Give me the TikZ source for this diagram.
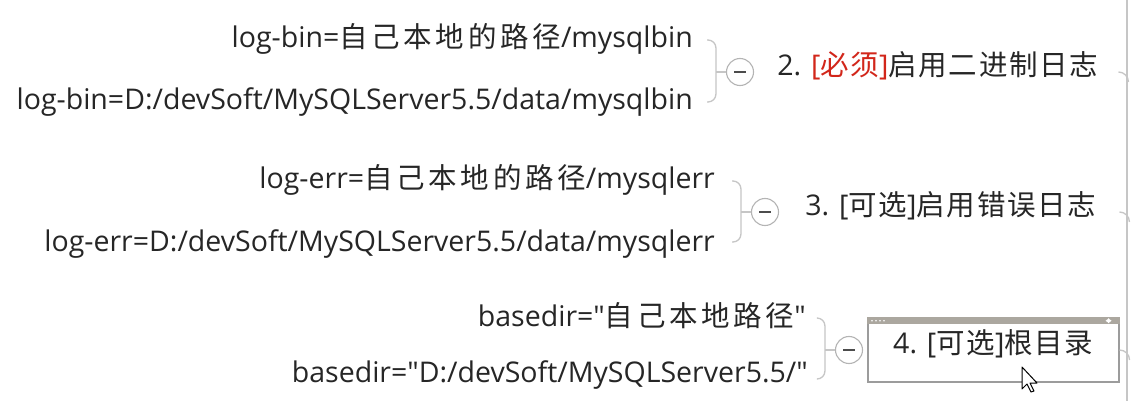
\documentclass[tikz,border=0pt]{standalone}
\usepackage{fontspec}
\setmainfont{Open Sans}[Ligatures=TeXOff]
\newfontfamily\cjk{Noto Sans CJK SC}[LetterSpace=6]
\newfontfamily\cjkwide{Noto Sans CJK SC}[LetterSpace=13]
\usetikzlibrary{positioning}
\definecolor{branchgray}{HTML}{C6C6C6}
\definecolor{foldgray}{HTML}{B4B4B4}
\definecolor{boxgray}{HTML}{9C9C9C}
\definecolor{bargray}{HTML}{ABA79F}
\definecolor{mustred}{HTML}{D2261A}

\begin{document}
\begin{tikzpicture}[x=1pt, y=1pt,
    every node/.style={font=\fontsize{28.5}{34}\selectfont, text=black!85, inner sep=0pt},
    leaf/.style={anchor=base east},
    branch/.style={draw=branchgray, line width=1.3pt, rounded corners=8pt},
    fold/.style={circle, draw=foldgray, fill=white, line width=1.1pt, minimum size=27pt},
    topic/.style={text height=0.85em, text depth=0.2em, align=center},
    minus/.style={draw=black!70, line width=1.7pt}]
    \useasboundingbox[fill=white] (0,0) rectangle (1133,-401);

    % fold buttons
    \node[fold] (c1) at (740,-72) {};
    \node[fold] (c2) at (765,-212) {};
    \node[fold] (c3) at (849,-350) {};
    \draw[minus] ([xshift=-6pt]c1.center) -- ([xshift=6pt]c1.center);
    \draw[minus] ([xshift=-6pt]c2.center) -- ([xshift=6pt]c2.center);
    \draw[minus] ([xshift=-6pt]c3.center) -- ([xshift=6pt]c3.center);

    % topics
    \node[topic,
          right=3pt of c1,
          minimum width=361pt] (l1)
        {2. {\color{mustred}[{\cjk 必须}]}{\cjk 启用二进制日志}};
    \node[topic,
          right=3pt of c2,
          minimum width=337pt] (l2)
        {3. [{\cjk 可选}]{\cjk 启用错误日志}};
    \node[topic,
          right=4pt of c3,
          minimum width=251pt,
          minimum height=64pt,
          draw=boxgray,
          line width=1.5pt,
          fill=white] (l3)
        {4. [{\cjk 可选}]{\cjk 根目录}};
    \fill[bargray] (l3.north west) rectangle ([yshift=-7pt]l3.north east);
    \foreach \i in {0,...,3}
        \fill[white] ([xshift=5pt+4*\i pt,yshift=-3.5pt]l3.north west) circle (0.9pt);
    \fill[white] ([xshift=-14pt,yshift=-3.5pt]l3.north east) -- ++(3.5,2.5) -- ++(0,-5) -- cycle;
    \fill[white] ([xshift=-8pt,yshift=-3.5pt]l3.north east) -- ++(-3.5,2.5) -- ++(0,-5) -- cycle;

    % leaves
    \node[leaf] (a1) at (693,-48) {log-bin={\cjkwide 自己本地的路径}/mysqlbin};
    \node[leaf] (b1) at (693,-110) {log-bin=D:/devSoft/MySQLServer5.5/data/mysqlbin};
    \node[leaf] (a2) at (715,-189) {log-err={\cjkwide 自己本地的路径}/mysqlerr};
    \node[leaf] (b2) at (715,-251) {log-err=D:/devSoft/MySQLServer5.5/data/mysqlerr};
    \node[leaf] (a3) at (806,-326) {basedir="{\cjkwide 自己本地路径}"};
    \node[leaf] (b3) at (808,-382) {basedir="D:/devSoft/MySQLServer5.5/"};

    % brackets
    \draw[branch] ([xshift=14pt,yshift=8pt]a1.base east) -| ([xshift=-10pt]c1.west)
        |- ([xshift=14pt,yshift=8pt]b1.base east);
    \draw[branch] (c1.west) -- ++(-10,0);
    \draw[branch] ([xshift=17pt,yshift=8pt]a2.base east) -| ([xshift=-10pt]c2.west)
        |- ([xshift=17pt,yshift=9pt]b2.base east);
    \draw[branch] (c2.west) -- ++(-10,0);
    \draw[branch] ([xshift=11pt,yshift=8pt]a3.base east) -| ([xshift=-10pt]c3.west)
        |- ([xshift=9pt,yshift=3pt]b3.base east);
    \draw[branch] (c3.west) -- ++(-10,0);

    % links to the parent
    \draw[branchgray, line width=1.3pt] (1127,0) -- (1127,-401);
    \draw[branchgray, line width=1.3pt] (l1.east) to[out=0,in=90] ++(10,-10);
    \draw[branchgray, line width=1.3pt] (l2.east) to[out=0,in=90] ++(10,-10);
    \draw[branchgray, line width=1.3pt] (l3.east) to[out=0,in=90] ++(10,-10);

    % mouse pointer
    \draw[fill=white, line width=1pt, line join=round] (1022,-367) -- ++(0,-22) -- ++(5,5)
        -- ++(4,-8) -- ++(3,1) -- ++(-4,8) -- ++(7,0) -- cycle;
\end{tikzpicture}
\end{document}
